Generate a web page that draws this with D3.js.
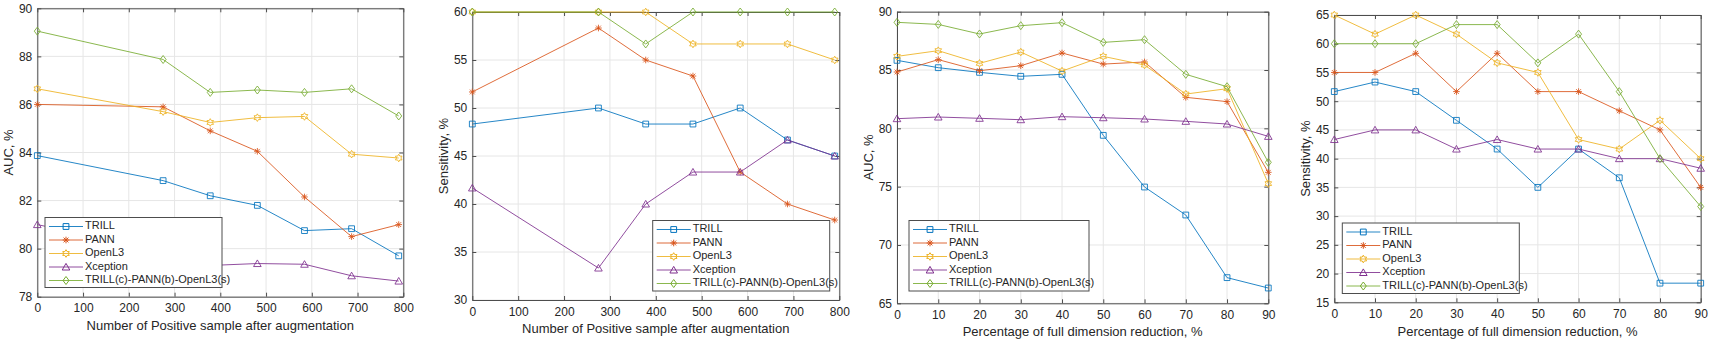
<!DOCTYPE html>
<html lang="en">
<head>
<meta charset="utf-8">
<title>AUC and sensitivity</title>
<script src="https://d3js.org/d3.v7.min.js"></script>
<style>
  body { margin: 0; background: #fff; }
  text { font-family: "Liberation Sans", Arial, Helvetica, sans-serif; fill: #262626; }
</style>
</head>
<body>
<div id="chart"></div>
<script>
// ---------- data ----------
var modelNames = ["TRILL", "PANN", "OpenL3", "Xception", "TRILL(c)-PANN(b)-OpenL3(s)"];

var sampleCounts = [0, 275, 378, 481, 584, 687, 790];
var reductionPct = [0, 10, 20, 30, 40, 50, 60, 70, 80, 90];

// panel a: AUC vs positive samples
var aucSamplesTrill    = [83.87, 82.83, 82.2, 81.8, 80.75, 80.83, 79.7];
var aucSamplesPann     = [86.0, 85.9, 84.9, 84.05, 82.15, 80.5, 81.0];
var aucSamplesOpenl3   = [86.65, 85.7, 85.25, 85.45, 85.5, 83.93, 83.77];
var aucSamplesXception = [81.0, 79.9, 79.3, 79.38, 79.35, 78.87, 78.65];
var aucSamplesFusion   = [89.05, 87.87, 86.5, 86.6, 86.5, 86.65, 85.52];

// panel b: sensitivity vs positive samples
var senSamplesTrill    = [48.33, 50, 48.33, 48.33, 50, 46.67, 45];
var senSamplesPann     = [51.67, 58.33, 55, 53.33, 43.33, 40, 38.33];
var senSamplesOpenl3   = [60, 60, 60, 56.67, 56.67, 56.67, 55];
var senSamplesXception = [41.67, 33.33, 40, 43.33, 43.33, 46.67, 45];
var senSamplesFusion   = [60, 60, 56.67, 60, 60, 60, 60];

// panel c: AUC vs dimension reduction
var aucReductTrill    = [85.83, 85.2, 84.8, 84.46, 84.63, 79.4, 74.97, 72.57, 67.2, 66.31];
var aucReductPann     = [84.83, 85.89, 84.94, 85.37, 86.46, 85.51, 85.69, 82.66, 82.29, 76.23];
var aucReductOpenl3   = [86.17, 86.66, 85.57, 86.54, 84.91, 86.17, 85.43, 82.94, 83.4, 75.26];
var aucReductXception = [80.83, 80.97, 80.86, 80.74, 81.0, 80.91, 80.8, 80.6, 80.37, 79.31];
var aucReductFusion   = [89.09, 88.91, 88.09, 88.8, 89.06, 87.37, 87.6, 84.63, 83.57, 77.09];

// panel d: sensitivity vs dimension reduction
var senReductTrill    = [51.67, 53.33, 51.67, 46.67, 41.67, 35, 41.67, 36.67, 18.33, 18.33];
var senReductPann     = [55, 55, 58.33, 51.67, 58.33, 51.67, 51.67, 48.33, 45, 35];
var senReductOpenl3   = [65, 61.67, 65, 61.67, 56.67, 55, 43.33, 41.67, 46.67, 40];
var senReductXception = [43.33, 45, 45, 41.67, 43.33, 41.67, 41.67, 40, 40, 38.33];
var senReductFusion   = [60, 60, 60, 63.33, 63.33, 56.67, 61.67, 51.67, 40, 31.67];

var sampleTicks = [0, 100, 200, 300, 400, 500, 600, 700, 800];
var aucSampleTicks = [78, 80, 82, 84, 86, 88, 90];
var senSampleTicks = [30, 35, 40, 45, 50, 55, 60];
var aucReductTicks = [65, 70, 75, 80, 85, 90];
var senReductTicks = [15, 20, 25, 30, 35, 40, 45, 50, 55, 60, 65];

// ---------- layout ----------
var W = 1710, H = 341;
var colors = ["#0072BD", "#D95319", "#EDB120", "#7E2F8E", "#77AC30"];
var markers = ["square", "asterisk", "hexagram", "triangle", "diamond"];

var panels = [
  { xs: sampleCounts, ys: [aucSamplesTrill, aucSamplesPann, aucSamplesOpenl3, aucSamplesXception, aucSamplesFusion],
    xDomain: [0, 800], yDomain: [78, 90], xTicks: sampleTicks, yTicks: aucSampleTicks,
    l: 37.3, r: 403.3, t: 8.3, b: 296.7,
    yLabel: "AUC, %", yLabelX: 10, xLabel: "Number of Positive sample after augmentation", xLabelY: 327,
    legend: { x: 45, y: 217.5, w: 177, h: 70 } },
  { xs: sampleCounts, ys: [senSamplesTrill, senSamplesPann, senSamplesOpenl3, senSamplesXception, senSamplesFusion],
    xDomain: [0, 800], yDomain: [30, 60], xTicks: sampleTicks, yTicks: senSampleTicks,
    l: 472.3, r: 839.3, t: 12, b: 300,
    yLabel: "Sensitivity, %", yLabelX: 445, xLabel: "Number of Positive sample after augmentation", xLabelY: 330,
    legend: { x: 652.7, y: 220.5, w: 177, h: 70.5 } },
  { xs: reductionPct, ys: [aucReductTrill, aucReductPann, aucReductOpenl3, aucReductXception, aucReductFusion],
    xDomain: [0, 90], yDomain: [65, 90], xTicks: reductionPct, yTicks: aucReductTicks,
    l: 897, r: 1268.3, t: 11.7, b: 303.3,
    yLabel: "AUC, %", yLabelX: 870, xLabel: "Percentage of full dimension reduction, %", xLabelY: 333,
    legend: { x: 909, y: 220.5, w: 180, h: 70.5 } },
  { xs: reductionPct, ys: [senReductTrill, senReductPann, senReductOpenl3, senReductXception, senReductFusion],
    xDomain: [0, 90], yDomain: [15, 65], xTicks: reductionPct, yTicks: senReductTicks,
    l: 1334.3, r: 1700.7, t: 15, b: 302.3,
    yLabel: "Sensitivity, %", yLabelX: 1307, xLabel: "Percentage of full dimension reduction, %", xLabelY: 333,
    legend: { x: 1342.3, y: 223, w: 177, h: 70.5 } }
];

var svg = d3.select("#chart").append("svg")
  .attr("width", W)
  .attr("height", H);

// marker path generator, centred on 0,0
function markerPath(kind) {
  if (kind == "square") { var s = 2.9; return "M" + -s + "," + -s + "H" + s + "V" + s + "H" + -s + "Z"; }
  if (kind == "triangle") return "M0,-3.6L3.8,3L-3.8,3Z";
  if (kind == "diamond") return "M0,-4L3,0L0,4L-3,0Z";
  if (kind == "asterisk") {
    var a = 3.3, d = 2.4;
    return "M0," + -a + "V" + a + "M" + -a + ",0H" + a +
      "M" + -d + "," + -d + "L" + d + "," + d + "M" + -d + "," + d + "L" + d + "," + -d;
  }
  // hexagram
  var pts = [];
  for (var i = 0; i < 12; i++) {
    var ang = -Math.PI / 2 + i * Math.PI / 6;
    var rr = i % 2 == 0 ? 3.8 : 2.2;
    pts.push([rr * Math.cos(ang), rr * Math.sin(ang)]);
  }
  return "M" + pts.map(function(p) { return p[0].toFixed(2) + "," + p[1].toFixed(2); }).join("L") + "Z";
}

panels.forEach(function(p) {
  var x = d3.scaleLinear().domain(p.xDomain).range([p.l, p.r]);
  var y = d3.scaleLinear().domain(p.yDomain).range([p.b, p.t]);
  var g = svg.append("g");

  // grid
  g.append("g").selectAll("line.vg").data(p.xTicks).enter().append("line")
    .attr("x1", function(d) { return x(d); }).attr("x2", function(d) { return x(d); })
    .attr("y1", p.t).attr("y2", p.b)
    .style("stroke", "#e6e6e6").style("stroke-width", 1);
  g.append("g").selectAll("line.hg").data(p.yTicks).enter().append("line")
    .attr("y1", function(d) { return y(d); }).attr("y2", function(d) { return y(d); })
    .attr("x1", p.l).attr("x2", p.r)
    .style("stroke", "#e6e6e6").style("stroke-width", 1);

  // axes (ticks inside, box on)
  var tk = 4;
  g.append("g").attr("transform", "translate(0," + p.b + ")")
    .call(d3.axisBottom(x).tickValues(p.xTicks).tickSizeInner(-tk).tickSizeOuter(0).tickPadding(7));
  g.append("g").attr("transform", "translate(" + p.l + ",0)")
    .call(d3.axisLeft(y).tickValues(p.yTicks).tickSizeInner(-tk).tickSizeOuter(0).tickPadding(5));
  g.append("g").attr("transform", "translate(0," + p.t + ")")
    .call(d3.axisTop(x).tickValues(p.xTicks).tickSizeInner(-tk).tickSizeOuter(0).tickFormat(""));
  g.append("g").attr("transform", "translate(" + p.r + ",0)")
    .call(d3.axisRight(y).tickValues(p.yTicks).tickSizeInner(-tk).tickSizeOuter(0).tickFormat(""));
  g.selectAll(".domain, .tick line").style("stroke", "#4d4d4d");
  g.selectAll(".tick text").style("font-size", "12px").style("fill", "#262626")
    .style("font-family", "\"Liberation Sans\", Arial, sans-serif");

  // axis labels
  g.append("text")
    .attr("x", (p.l + p.r) / 2).attr("y", p.xLabelY)
    .attr("text-anchor", "middle").attr("dominant-baseline", "middle")
    .style("font-size", "13px")
    .text(p.xLabel);
  g.append("text")
    .attr("transform", "translate(" + p.yLabelX + "," + (p.t + p.b) / 2 + ") rotate(-90)")
    .attr("text-anchor", "middle").attr("dominant-baseline", "middle")
    .style("font-size", "13px")
    .text(p.yLabel);

  // series
  var line = d3.line().x(function(d) { return x(d[0]); }).y(function(d) { return y(d[1]); });
  p.ys.forEach(function(vals, k) {
    var pts = p.xs.map(function(v, i) { return [v, vals[i]]; });
    g.append("path").datum(pts)
      .attr("d", line)
      .style("fill", "none").style("stroke", colors[k]).style("stroke-width", 1).style("opacity", 0.85);
    g.append("g").selectAll("path").data(pts).enter().append("path")
      .attr("transform", function(d) { return "translate(" + x(d[0]) + "," + y(d[1]) + ")"; })
      .attr("d", markerPath(markers[k]))
      .style("fill", "none").style("stroke", colors[k]).style("stroke-width", 1).style("opacity", 0.85);
  });

  // legend
  var L = p.legend;
  var lg = g.append("g").attr("transform", "translate(" + L.x + "," + L.y + ")");
  lg.append("rect").attr("width", L.w).attr("height", L.h)
    .style("fill", "#fff").style("stroke", "#4d4d4d").style("stroke-width", 1);
  modelNames.forEach(function(name, k) {
    var ry = 9 + k * 13.5;
    lg.append("line").attr("x1", 4).attr("x2", 38).attr("y1", ry).attr("y2", ry)
      .style("stroke", colors[k]).style("stroke-width", 1).style("opacity", 0.85);
    lg.append("path").attr("transform", "translate(21," + ry + ")")
      .attr("d", markerPath(markers[k]))
      .style("fill", "none").style("stroke", colors[k]).style("stroke-width", 1);
    lg.append("text").attr("x", 40).attr("y", ry)
      .attr("dominant-baseline", "middle")
      .style("font-size", "11px")
      .text(name);
  });
});
</script>
</body>
</html>
